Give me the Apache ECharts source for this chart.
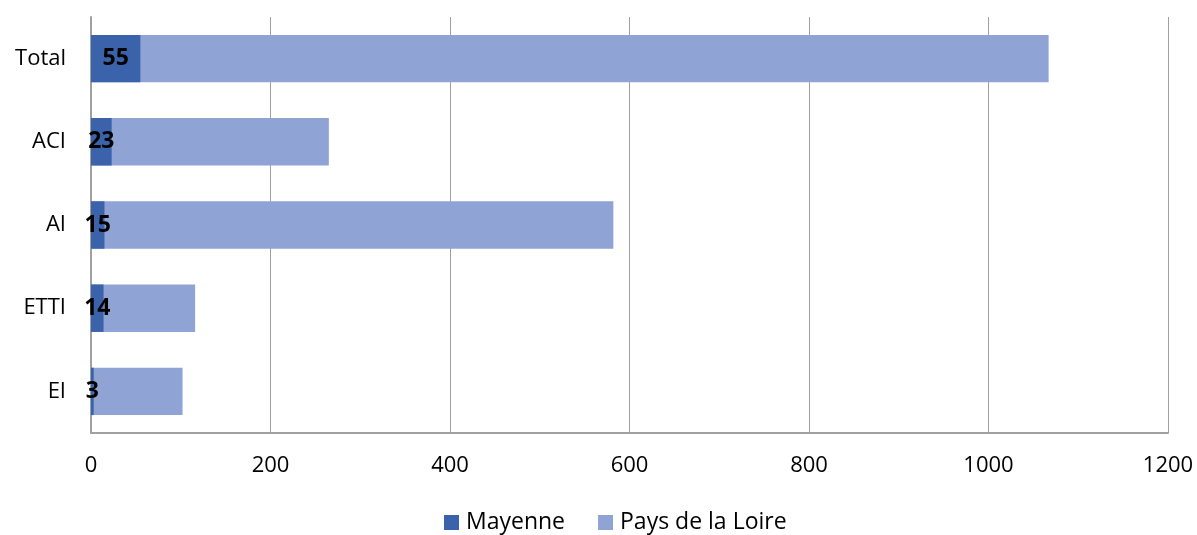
<!DOCTYPE html>
<html>
<head>
<meta charset="utf-8">
<script src="https://cdn.jsdelivr.net/npm/echarts@6/dist/echarts.min.js"></script>
<style>
  html, body { margin: 0; padding: 0; background: #fff; }
  #chart { width: 1197px; height: 535px; }
</style>
</head>
<body>
<div id="chart"></div>
<script>
// catégories, de haut en bas
var categories = ['Total', 'ACI', 'AI', 'ETTI', 'EI'];
var mayenne = [55, 23, 15, 14, 3];
var paysDeLaLoire = [1067, 265, 582, 116, 102];
var xTicks = [0, 200, 400, 600, 800, 1000, 1200];

var myChart = echarts.init(document.getElementById('chart'));
myChart.setOption({
  textStyle: { fontFamily: 'Open Sans' },
  animation: false,
  legend: {
    data: ['Mayenne', 'Pays de la Loire'],
    bottom: -4,
    left: 439,
    icon: 'rect',
    itemWidth: 15,
    itemHeight: 15,
    itemGap: 33,
    textStyle: { color: '#000', fontSize: 23, fontFamily: 'Open Sans', padding: [0, 0, 0, 2] }
  },
  grid: {
    left: 91,
    right: 29,
    top: 17,
    bottom: 102
  },
  xAxis: {
    type: 'value',
    min: xTicks[0],
    max: xTicks[xTicks.length - 1],
    interval: 200,
    axisLine: { show: true, lineStyle: { color: '#a0a0a0', width: 2 } },
    axisTick: { show: false },
    axisLabel: { color: '#000', fontSize: 22, margin: 22, formatter: function (v) { return String(v); } },
    splitLine: { show: true, lineStyle: { color: '#a0a0a0', width: 1 } }
  },
  yAxis: {
    type: 'category',
    data: categories,
    inverse: true,
    axisLine: { show: true, lineStyle: { color: '#a0a0a0', width: 2 } },
    axisTick: { show: false },
    axisLabel: { color: '#000', fontSize: 22, margin: 25 }
  },
  series: [
    {
      name: 'Mayenne',
      type: 'bar',
      data: mayenne,
      z: 3,
      barWidth: '57%',
      barGap: '-100%',
      itemStyle: { color: '#3b63ac' },
      label: {
        show: true,
        position: 'inside',
        color: '#000',
        fontWeight: 'bold',
        fontSize: 23,
        fontFamily: 'Open Sans'
      }
    },
    {
      name: 'Pays de la Loire',
      type: 'bar',
      data: paysDeLaLoire,
      z: 2,
      barWidth: '57%',
      barGap: '-100%',
      itemStyle: { color: '#8fa3d4' }
    }
  ]
});
</script>
</body>
</html>
